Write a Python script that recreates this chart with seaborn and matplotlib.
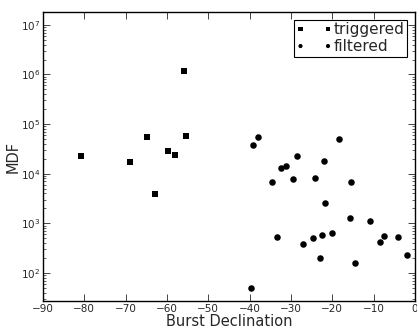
import numpy as np
import pandas as pd
import matplotlib
matplotlib.use("Agg")
import matplotlib.pyplot as plt
import seaborn as sns

# triggered bursts (squares)
trig_dec = [-80.9, -68.9, -64.8, -59.8, -58.0, -55.8, -55.4, -63.0]
trig_mdf = [2.26e4, 1.75e4, 5.4e4, 2.9e4, 2.37e4, 1.17e6, 5.7e4, 3.96e3]

# filtered bursts (circles)
filt_dec = [-39.1, -38.0, -28.5, -21.9, -18.4, -32.3, -31.3, -34.6, -29.5, -24.1,
            -15.5, -21.8, -15.8, -10.8, -20.0, -22.5, -24.6, -33.3, -27.1, -7.5,
            -8.5, -4.1, -2.0, -22.9, -14.5, -39.7]
filt_mdf = [3.8e4, 5.4e4, 2.26e4, 1.8e4, 5.0e4, 1.28e4, 1.42e4, 6.9e3, 7.8e3, 8.1e3,
            6.9e3, 2.56e3, 1.26e3, 1.13e3, 6.4e2, 5.7e2, 5.1e2, 5.3e2, 3.9e2, 5.6e2,
            4.1e2, 5.3e2, 2.25e2, 2.0e2, 1.6e2, 49]

sns.set_style("ticks")
plt.rcParams['font.family'] = ['DejaVu Sans']

fig = plt.figure(figsize=(4.17, 3.29), dpi=100)
ax = fig.add_axes([0.103, 0.085, 0.892, 0.878])

trig = pd.DataFrame({'dec': trig_dec, 'mdf': trig_mdf})
filt = pd.DataFrame({'dec': filt_dec, 'mdf': filt_mdf})

sns.scatterplot(data=trig, x='dec', y='mdf', marker='s', s=20, color='black',
                edgecolor='black', linewidth=0, label='triggered', ax=ax)
sns.scatterplot(data=filt, x='dec', y='mdf', marker='o', s=22, color='black',
                edgecolor='black', linewidth=0, label='filtered', ax=ax)

ax.set_yscale('log')
ax.set_xlim(-90, 0)
ax.set_ylim(27, 1.8e7)
ax.set_xticks(range(-90, 1, 10))
ax.set_xlabel('Burst Declination', fontsize=10.5, labelpad=0)
ax.set_ylabel('MDF', fontsize=10.5, labelpad=0)

ax.tick_params(which='both', direction='in', top=True, right=True, labelsize=7.5)
ax.tick_params(which='major', length=5, width=0.6, pad=2)
ax.tick_params(which='minor', length=2.5, width=0.5)
for sp in ax.spines.values():
    sp.set_linewidth(1.0)
    sp.set_color('black')

leg = ax.legend(loc='upper right', scatterpoints=2, scatteryoffsets=[0.5],
                fontsize=11,
                fancybox=False, framealpha=1, edgecolor='black',
                borderpad=0.15, handletextpad=0.1, labelspacing=0.15,
                handlelength=2.4, borderaxespad=0.5)
leg.get_frame().set_linewidth(0.8)
for h in leg.legend_handles:
    h.set_sizes([9, 9])

fig.savefig('out.png', dpi=100)
